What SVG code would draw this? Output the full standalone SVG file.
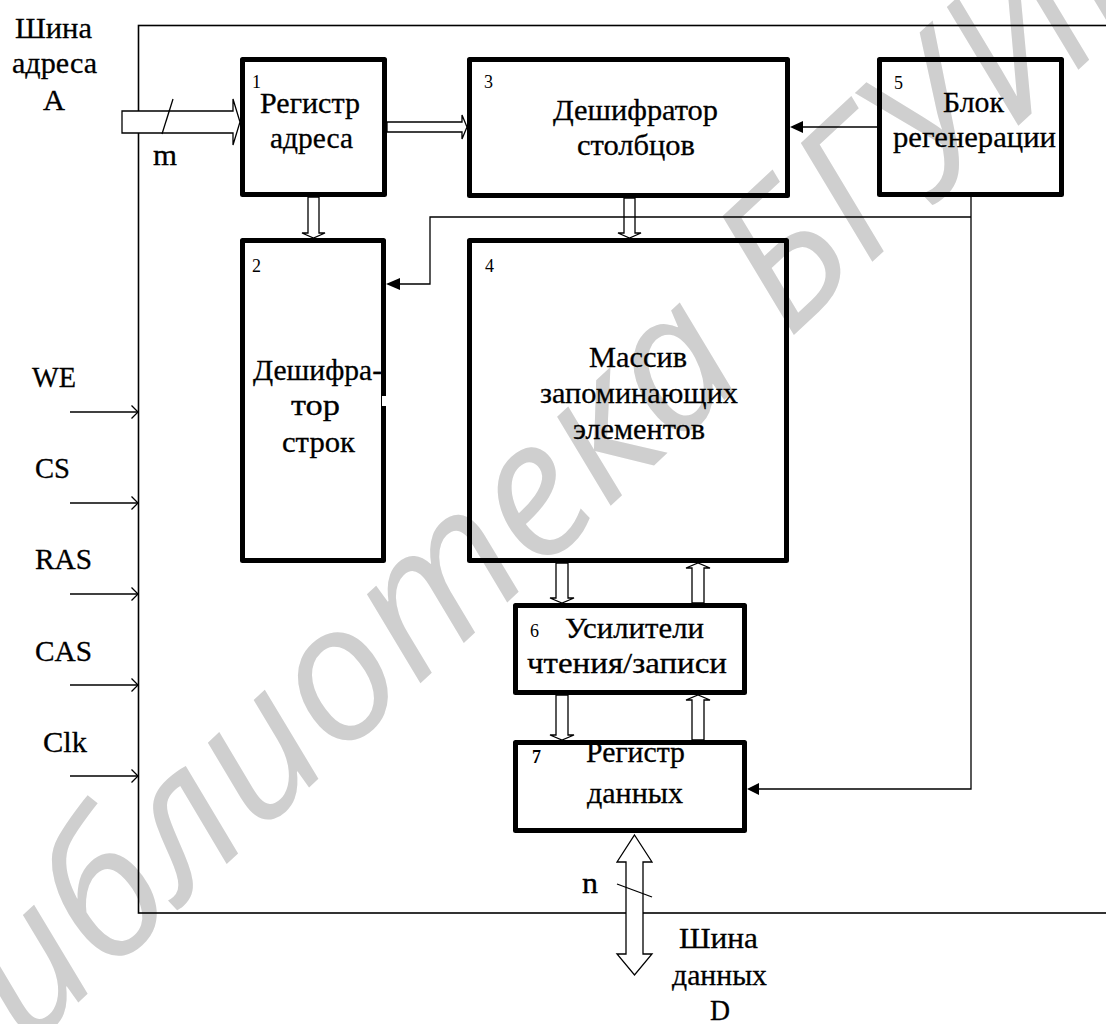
<svg xmlns="http://www.w3.org/2000/svg" width="1106" height="1024" viewBox="0 0 1106 1024">
<style>
  .t, .lbl { font-family: 'Liberation Serif', 'Times New Roman', serif; font-size: 30px; fill: #000; stroke: #000; stroke-width: 0.3; }
  .num { font-family: 'Liberation Serif', 'Times New Roman', serif; font-size: 18px; fill: #000; }
  .box { fill: none; stroke: #000; stroke-width: 5; stroke-linejoin: round; }
  .thin { fill: none; stroke: #000; stroke-width: 1.3; }
  .frame { fill: none; stroke: #000; stroke-width: 1.6; }
  .bus { fill: #fff; stroke: #000; stroke-width: 1.3; stroke-linejoin: miter; }
  .head { fill: #000; stroke: none; }
  .wm { font-family: 'Open Sans', 'Noto Sans', sans-serif; font-style: italic; font-size: 190px; fill: #cfcfcf; stroke: none; }
</style>
<rect width="1106" height="1024" fill="#fff"/>
<text class="wm" transform="translate(-51,1123) rotate(-43)">Библиотека БГУИР</text>

<rect class="frame" x="138.5" y="25.5" width="1000" height="887.5"/>

<g id="bus-address">
  <text class="lbl" x="15" y="38" textLength="77" lengthAdjust="spacingAndGlyphs">Шина</text>
  <text class="lbl" x="12" y="73" textLength="85" lengthAdjust="spacingAndGlyphs">адреса</text>
  <text class="lbl" x="43" y="110" textLength="22" lengthAdjust="spacingAndGlyphs">A</text>
  <text class="lbl" x="153" y="165" textLength="24" lengthAdjust="spacingAndGlyphs">m</text>
</g>

<g id="signals">
  <text class="lbl" x="32" y="387" textLength="44" lengthAdjust="spacingAndGlyphs">WE</text>
  <text class="lbl" x="35" y="478" textLength="35" lengthAdjust="spacingAndGlyphs">CS</text>
  <text class="lbl" x="35" y="569" textLength="57" lengthAdjust="spacingAndGlyphs">RAS</text>
  <text class="lbl" x="35" y="661" textLength="57" lengthAdjust="spacingAndGlyphs">CAS</text>
  <text class="lbl" x="43" y="752" textLength="44" lengthAdjust="spacingAndGlyphs">Clk</text>
</g>

<g id="node1">
  <rect class="box" x="242.5" y="59.5" width="142" height="135"/>
  <text class="num" x="252" y="88">1</text>
  <text class="t" x="260" y="113" textLength="100" lengthAdjust="spacingAndGlyphs">Регистр</text>
  <text class="t" x="270" y="148" textLength="83" lengthAdjust="spacingAndGlyphs">адреса</text>
</g>

<g id="node3">
  <rect class="box" x="469.5" y="59.5" width="318" height="136"/>
  <text class="num" x="484" y="88">3</text>
  <text class="t" x="553" y="120" textLength="165" lengthAdjust="spacingAndGlyphs">Дешифратор</text>
  <text class="t" x="577" y="155" textLength="118" lengthAdjust="spacingAndGlyphs">столбцов</text>
</g>

<g id="node5">
  <rect class="box" x="879.5" y="59.5" width="182" height="135"/>
  <text class="num" x="894" y="89">5</text>
  <text class="t" x="943" y="112" textLength="61" lengthAdjust="spacingAndGlyphs">Блок</text>
  <text class="t" x="893" y="147" textLength="163" lengthAdjust="spacingAndGlyphs">регенерации</text>
</g>

<g id="node2">
  <rect class="box" x="242.5" y="240.5" width="141" height="320"/>
  <rect x="382" y="396" width="4" height="10" fill="#fff"/>
  <text class="num" x="252" y="272" font-size="20">2</text>
  <text class="t" x="253" y="380" textLength="129" lengthAdjust="spacingAndGlyphs">Дешифра-</text>
  <text class="t" x="291" y="415" textLength="49" lengthAdjust="spacingAndGlyphs">тор</text>
  <text class="t" x="282" y="452" textLength="73" lengthAdjust="spacingAndGlyphs">строк</text>
</g>

<g id="node4">
  <rect class="box" x="469.5" y="240.5" width="317" height="320"/>
  <text class="num" x="485" y="272" font-size="20">4</text>
  <text class="t" x="589" y="367" textLength="98" lengthAdjust="spacingAndGlyphs">Массив</text>
  <text class="t" x="540" y="403" textLength="198" lengthAdjust="spacingAndGlyphs">запоминающих</text>
  <text class="t" x="573" y="439" textLength="132" lengthAdjust="spacingAndGlyphs">элементов</text>
</g>

<g id="node6">
  <rect class="box" x="515.5" y="605.5" width="229" height="87"/>
  <text class="num" x="530" y="637" font-size="16">6</text>
  <text class="t" x="565" y="638" textLength="139" lengthAdjust="spacingAndGlyphs">Усилители</text>
  <text class="t" x="527" y="673" textLength="200" lengthAdjust="spacingAndGlyphs">чтения/записи</text>
</g>

<g id="node7">
  <rect class="box" x="515.5" y="742.5" width="229" height="88"/>
  <text class="num" x="532" y="763" font-size="16" font-weight="bold">7</text>
  <text class="t" x="586" y="762" textLength="99" lengthAdjust="spacingAndGlyphs">Регистр</text>
  <text class="t" x="587" y="803" textLength="96" lengthAdjust="spacingAndGlyphs">данных</text>
</g>

<g id="bus-data">
  <text class="lbl" x="582" y="893" textLength="16" lengthAdjust="spacingAndGlyphs">n</text>
  <text class="lbl" x="679" y="948" textLength="79" lengthAdjust="spacingAndGlyphs">Шина</text>
  <text class="lbl" x="672" y="985" textLength="95" lengthAdjust="spacingAndGlyphs">данных</text>
  <text class="lbl" x="710" y="1020" textLength="20" lengthAdjust="spacingAndGlyphs">D</text>
</g>

<g id="connectors">
  <polygon class="bus" points="122,111 233,111 233,99 240,122 233,145 233,133 122,133"/>
  <line class="thin" x1="173" y1="99" x2="162" y2="134"/>
  <polygon class="bus" points="387,122 462,122 462,115 467,127 462,139 462,132 387,132"/>
  <polygon class="bus" points="308,197 319,197 319,233 325,233 313.5,238 302,233 308,233"/>
  <polygon class="bus" points="624,198 635,198 635,233 641,233 629.5,238 618,233 624,233"/>
  <polygon class="bus" points="556,563 568,563 568,598 574,598 562,603 550,598 556,598"/>
  <polygon class="bus" points="692,603 704,603 704,568 710,568 698,563 686,568 692,568"/>
  <polygon class="bus" points="556,695 568,695 568,735 574,735 562,740 550,735 556,735"/>
  <polygon class="bus" points="692,740 704,740 704,700 710,700 698,695 686,700 692,700"/>
  <polygon class="bus" points="634.5,835 652,862 643,862 643,954 652,954 634.5,975 617,954 626,954 626,862 617,862"/>
  <line class="thin" x1="617" y1="884" x2="652" y2="897"/>

  <line class="thin" x1="877" y1="127" x2="802" y2="127"/>
  <polygon class="head" points="790,127 803,121 803,133"/>
  <path class="thin" d="M971,197 V789 H758"/>
  <polygon class="head" points="747,789 759,783 759,795"/>
  <path class="thin" d="M971,217 H430 V284 H399"/>
  <polygon class="head" points="386,284 400,278 400,290"/>

  <g class="thin">
    <line x1="70" y1="412" x2="138" y2="412"/><polyline points="131.5,405.5 138,412 131.5,418.5"/>
    <line x1="70" y1="503" x2="138" y2="503"/><polyline points="131.5,496.5 138,503 131.5,509.5"/>
    <line x1="70" y1="594" x2="138" y2="594"/><polyline points="131.5,587.5 138,594 131.5,600.5"/>
    <line x1="70" y1="685" x2="138" y2="685"/><polyline points="131.5,678.5 138,685 131.5,691.5"/>
    <line x1="70" y1="776" x2="138" y2="776"/><polyline points="131.5,769.5 138,776 131.5,782.5"/>
  </g>
</g>
</svg>
